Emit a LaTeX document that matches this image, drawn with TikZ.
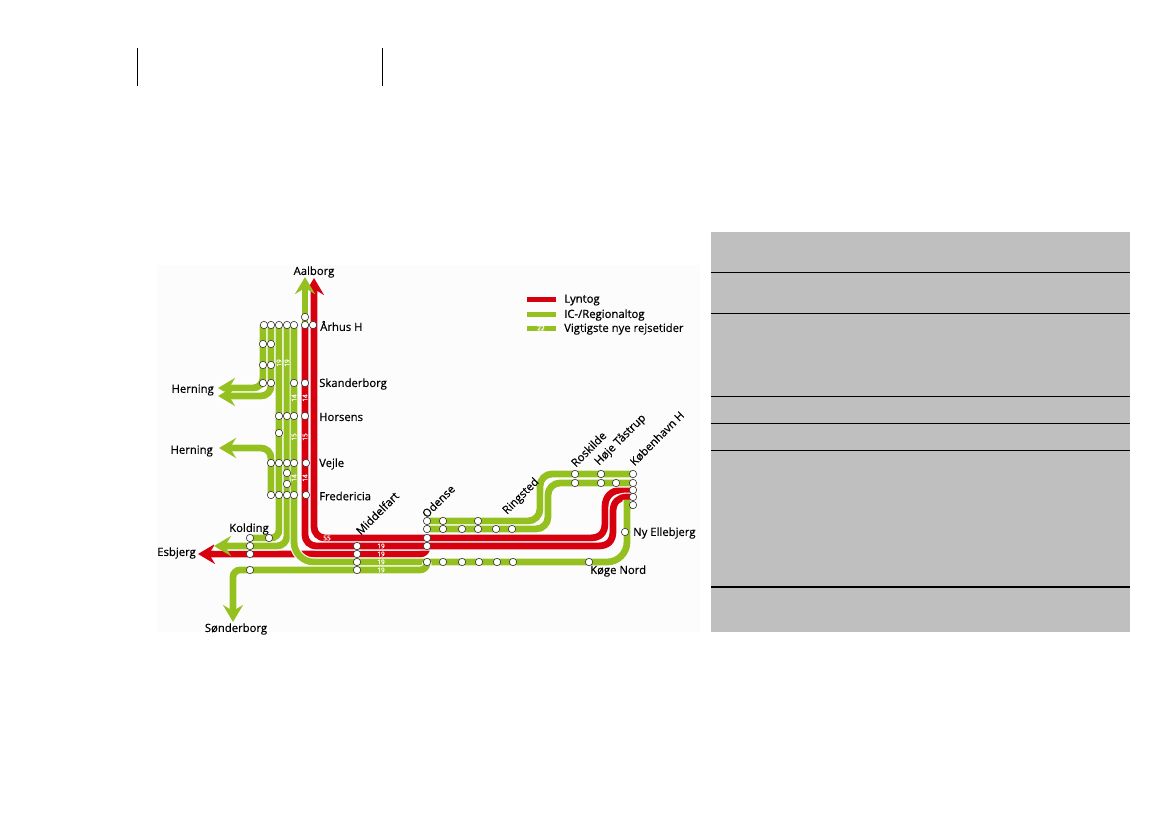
\documentclass[tikz,border=0pt]{standalone}
\usepackage{fontspec}
\setsansfont{Open Sans}
\newfontfamily\mapfont[FakeBold=0.35]{Open Sans}
\newfontfamily\keyfont[FakeBold=0.8]{Open Sans}
\usepackage{xcolor}
\usetikzlibrary{arrows.meta}
\definecolor{lyntog}{HTML}{D6000F}
\definecolor{regional}{HTML}{94C11F}
\definecolor{panel}{HTML}{BFBFBF}
\tikzset{
  route/.style={line width=6.8pt,rounded corners=10pt,preaction={draw=white,line width=9pt,-}},
  redline/.style={route,draw=lyntog},
  greenline/.style={route,draw=regional},
  headarrow/.style={-{Stealth[length=17pt,width=20pt,inset=6pt]}},
  starthead/.style={{Stealth[length=17pt,width=20pt,inset=6pt]}-},
  stn/.style={circle,draw=black!80,fill=white,line width=0.6pt,inner sep=0pt,minimum size=7.4pt},
  place/.style={font=\mapfont\fontsize{11.3}{13}\selectfont,text=black,inner sep=0pt},
  slant/.style={place,rotate=45,anchor=south west},
  tag/.style={font=\keyfont\fontsize{6.5}{7}\selectfont,text=white,inner sep=0pt},
  rule/.style={line width=0.7pt,draw=black}
}
\begin{document}
\begin{tikzpicture}[x=1pt,y=-1pt]
  \useasboundingbox (0,0) rectangle (1169,826);
  % Header ticks
  \coordinate (tickAt) at (137,48);
  \coordinate (tickAb) at (137,86);
  \coordinate (tickBt) at (382,48);
  \coordinate (tickBb) at (382,86);
  \draw[line width=1pt] (tickAt) -- (tickAb);
  \draw[line width=1pt] (tickBt) -- (tickBb);
  % Grey table panel
  \fill[panel] (711,232) rectangle (1130,632);
  \foreach \yy in {272,313,396,423,450} {
    \draw[rule] (711,\yy) -- (1130,\yy);
  }
  \draw[rule,line width=1.2pt] (711,587) -- (1130,587);
  % Map background
  \fill[black!1] (157,265) rectangle (700,632);
  % Red lines
  \draw[redline,headarrow,rounded corners=7pt] (427,546) -- (427,554) -- (198,554);
  \draw[redline,starthead,rounded corners=11pt] (314,278) -- (314,538) -- (500,538)
    [sharp corners] -- (590,538)
    .. controls (600,538) and (605,533) .. (605,523) -- (605,507)
    .. controls (605,496) and (612,490) .. (622,490) -- (633,490);
  \draw[redline,rounded corners=11pt] (305,325) -- (305,546) -- (500,546)
    [sharp corners] -- (598,546)
    .. controls (608,546) and (613,541) .. (613,531) -- (613,511)
    .. controls (613,502) and (619,497) .. (627,497) -- (633,497);
  % Green lines
  \draw[greenline,headarrow] (305,325) -- (305,277);
  \draw[greenline,headarrow] (263,325) -- (263,388) -- (218,388);
  \draw[greenline,headarrow] (271,325) -- (271,396) -- (218,396);
  \draw[greenline,headarrow] (271,495) -- (271,448) -- (219,448);
  \draw[greenline,rounded corners=8pt] (279,325) -- (279,538) -- (250,538);
  \draw[greenline,headarrow] (287,325) -- (287,546) -- (214,546);
  \draw[greenline,rounded corners=20pt] (294,325) -- (294,562) -- (627,562) -- (627,520)
    .. controls (627,510) and (629,505) .. (633,505);
  \draw[greenline,headarrow,rounded corners=7pt] (427,562) -- (427,570) -- (233,570) -- (233,622);
  \draw[greenline,rounded corners=12pt] (427,521) -- (540,521) -- (540,474) -- (633,474);
  \draw[greenline,rounded corners=12pt] (427,529) -- (548,529) -- (548,483) -- (633,483);
  % Line numbers
  \foreach \xx/\yy/\txt in {279/363/19,287/363/19,294/398/14,305/398/14,294/437/15,305/437/15,294/478/14,305/478/14} {
    \node[tag,rotate=90] at (\xx,\yy) {\txt};
  }
  \foreach \yy in {546,554,562,570} {
    \node[tag] at (381,\yy) {19};
  }
  \node[tag] (tag55) at (327,538) {55};
  % Stations
  \foreach \xx/\yy in {
    305/317,
    264/325,271/325,279/325,287/325,294/325,305/325,313/325,
    263/344,271/344,
    263/365,271/365,
    263/383,271/383,294/383,305/383,
    279/416,287/416,294/416,305/416,
    279/433,
    271/463,279/463,287/463,294/463,306/463,
    287/473,287/484,
    271/495,279/495,287/495,294/495,306/495,
    250/538,269/538,250/546,250/554,250/570,
    357/546,357/554,357/562,357/570,
    427/521,443/521,478/521,
    427/529,443/529,462/529,478/529,496/529,512/529,
    427/538,427/546,
    427/562,443/562,462/562,479/562,497/562,513/562,589/562,
    575/474,601/474,633/474,
    575/483,601/483,616/483,633/483,
    633/490,633/497,633/505,625/532} {
    \node[stn] (s\xx-\yy) at (\xx,\yy) {};
  }
  % Place names
  \node[place] (aalborg) at (314,272) {Aalborg};
  \node[place,anchor=west] (aarhus) at (320,326) {Århus H};
  \node[place,anchor=west] (skanderborg) at (319,384) {Skanderborg};
  \node[place,anchor=west] (horsens) at (319,417) {Horsens};
  \node[place,anchor=west] (vejle) at (319,464) {Vejle};
  \node[place,anchor=west] (fredericia) at (319,496) {Fredericia};
  \node[place,anchor=east] (herningA) at (214,390) {Herning};
  \node[place,anchor=east] (herningB) at (213,451) {Herning};
  \node[place] (kolding) at (249,529) {Kolding};
  \node[place,anchor=east] (esbjerg) at (196,553) {Esbjerg};
  \node[place] (soenderborg) at (236,629) {Sønderborg};
  \node[slant] (middelfart) at (361,536) {Middelfart};
  \node[slant] (odense) at (427,519) {Odense};
  \node[slant] (ringsted) at (509,517) {Ringsted};
  \node[slant] (roskilde) at (576,468) {Roskilde};
  \node[slant] (hoeje) at (601,468) {Høje Tåstrup};
  \node[slant] (koebenhavn) at (635,467) {København H};
  \node[place,anchor=west] (ellebjerg) at (633,533) {Ny Ellebjerg};
  \node[place,anchor=west] (koege) at (590,571) {Køge Nord};
  % Legend
  \fill[lyntog] (527,296.5) rectangle (556,301.5);
  \fill[regional] (527,311.5) rectangle (556,316.5);
  \fill[regional] (527,325.5) rectangle (556,330.5);
  \node[tag] (key22) at (541,328) {22};
  \node[place,anchor=west,font=\keyfont\fontsize{11.3}{13}\selectfont] (keyA) at (564,300) {Lyntog};
  \node[place,anchor=west,font=\keyfont\fontsize{11.3}{13}\selectfont] (keyB) at (564,315) {IC-/Regionaltog};
  \node[place,anchor=west] (keyC) at (564,329) {Vigtigste nye rejsetider};
\end{tikzpicture}
\end{document}
